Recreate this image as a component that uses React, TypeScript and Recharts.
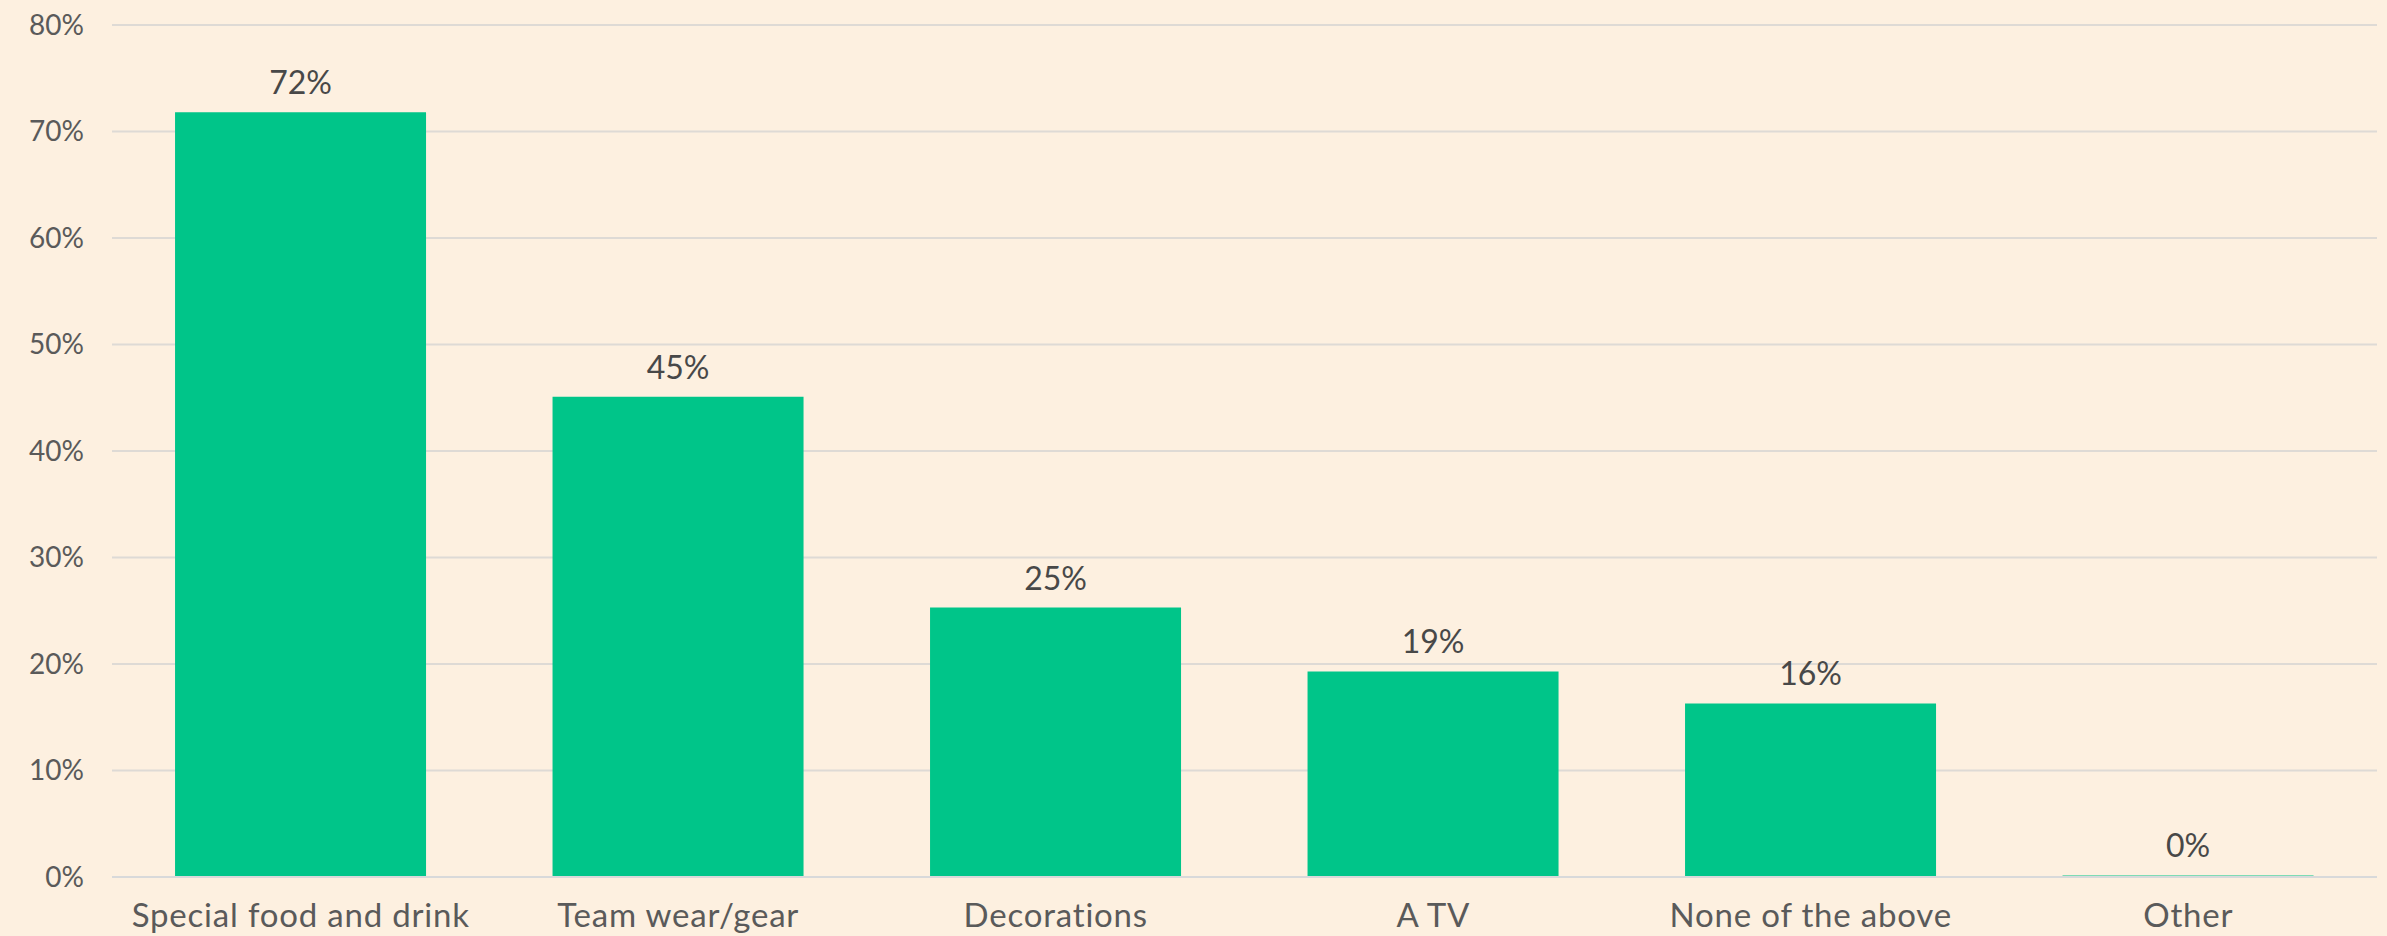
import React from 'react';
import { BarChart, Bar, XAxis, YAxis, CartesianGrid, LabelList } from 'recharts';

const categories = ['Special food and drink', 'Team wear/gear', 'Decorations', 'A TV', 'None of the above', 'Other'];
const shares = [71.8, 45.1, 25.3, 19.3, 16.3, 0.15];
const yTicks = [0, 10, 20, 30, 40, 50, 60, 70, 80];

const data = categories.map((name, i) => ({ name, share: shares[i] }));

const FONT = 'Lato, "Open Sans", sans-serif';

const App: React.FC = () => {
    return (
        <div style={{ position: 'absolute', left: 0, top: 0, width: 2387, height: 936, background: '#FDF0E0' }}>
            <BarChart
                width={2387}
                height={936}
                data={data}
                margin={{ top: 25, right: 10, left: 0, bottom: 0 }}
                barCategoryGap="16.7%"
            >
                <CartesianGrid vertical={false} stroke="#DEDAD5" strokeWidth={2} />
                <XAxis
                    dataKey="name"
                    height={59}
                    tickLine={false}
                    axisLine={{ stroke: '#D8D9DA', strokeWidth: 2 }}
                    tickMargin={21}
                    interval={0}
                    tick={{ fill: '#5A5A5A', fontSize: 33, fontFamily: FONT, letterSpacing: 0.8 }}
                />
                <YAxis
                    width={112}
                    domain={[0, 80]}
                    ticks={yTicks}
                    tickFormatter={(v: number) => `${v}%`}
                    axisLine={false}
                    tickLine={false}
                    tickMargin={22}
                    tick={{ fill: '#5A5A5A', fontSize: 28, fontFamily: FONT }}
                />
                <Bar dataKey="share" fill="#00C589" isAnimationActive={false}>
                    <LabelList
                        dataKey="share"
                        position="top"
                        offset={18}
                        formatter={(v: any) => `${Math.round(Number(v))}%`}
                        style={{ fill: '#484848', fontSize: 32, fontFamily: FONT }}
                    />
                </Bar>
            </BarChart>
        </div>
    );
};

export default App;
